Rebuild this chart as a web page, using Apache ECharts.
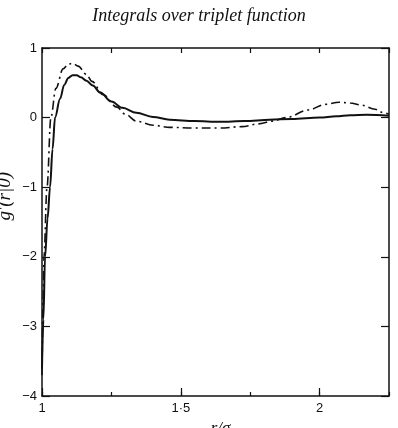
<!DOCTYPE html>
<html>
<head>
<meta charset="utf-8">
<script src="https://cdn.jsdelivr.net/npm/echarts@6/dist/echarts.min.js"></script>
<style>
  html, body { margin: 0; padding: 0; background: #fff; }
  #main { width: 398px; height: 428px; }
</style>
</head>
<body>
<div id="main"></div>
<script>
// data (r/sigma, g'(r|0))
const solidR = [1.0, 1.005, 1.011, 1.02, 1.029, 1.038, 1.047, 1.065, 1.08, 1.095, 1.11, 1.125, 1.14, 1.16, 1.183, 1.21, 1.25, 1.29, 1.34, 1.4, 1.46, 1.55, 1.64, 1.73, 1.82, 1.9, 2.0, 2.06, 2.11, 2.17, 2.25];
const solidG = [-3.6, -2.9, -2.0, -1.45, -1.0, -0.45, 0.0, 0.27, 0.47, 0.57, 0.61, 0.61, 0.58, 0.53, 0.46, 0.36, 0.23, 0.14, 0.07, 0.01, -0.03, -0.05, -0.06, -0.05, -0.03, -0.02, 0.0, 0.02, 0.035, 0.04, 0.025];

const dashR = [1.0, 1.004, 1.007, 1.018, 1.032, 1.05, 1.076, 1.095, 1.11, 1.13, 1.16, 1.18, 1.22, 1.27, 1.3, 1.34, 1.4, 1.46, 1.55, 1.64, 1.72, 1.78, 1.83, 1.88, 1.96, 2.02, 2.07, 2.11, 2.15, 2.2, 2.23, 2.25];
const dashG = [-3.7, -2.6, -2.0, -1.0, 0.0, 0.42, 0.7, 0.77, 0.78, 0.74, 0.62, 0.52, 0.33, 0.15, 0.05, -0.05, -0.11, -0.14, -0.15, -0.15, -0.13, -0.09, -0.05, 0.0, 0.11, 0.19, 0.22, 0.21, 0.18, 0.12, 0.07, 0.05];

const xTickLabels = { 1: '1', 1.5: '1·5', 2: '2' };

const pairs = (xs, ys) => xs.map((x, i) => [x, ys[i]]);

const myChart = echarts.init(document.getElementById('main'));

const axisLine = { show: true, onZero: false, lineStyle: { color: '#111', width: 1.5 } };
const labelFont = { color: '#111', fontFamily: 'Liberation Sans', fontSize: 13 };

const option = {
  backgroundColor: '#fff',
  animation: false,
  title: {
    text: 'Integrals over triplet function',
    left: 'center',
    top: 2,
    textStyle: { fontFamily: 'Liberation Serif', fontStyle: 'italic', fontWeight: 'normal', fontSize: 18, color: '#111' }
  },
  grid: { left: 42, right: 9, top: 48, bottom: 32, outerBoundsMode: 'none', containLabel: false },
  xAxis: [
    {
      type: 'value', position: 'bottom', min: 1, max: 2.25, interval: 0.5,
      axisLine: axisLine,
      axisTick: { inside: true, length: 8, lineStyle: { color: '#111', width: 1.2 } },
      axisLabel: Object.assign({
        margin: 6, showMaxLabel: false,
        formatter: v => xTickLabels[v] || ''
      }, labelFont),
      splitLine: { show: false },
      name: 'r/σ', nameLocation: 'middle', nameGap: 22,
      nameTextStyle: { fontFamily: 'Liberation Serif', fontStyle: 'italic', fontSize: 17, color: '#111', padding: [0, 0, 0, 10] }
    },
    {
      type: 'value', position: 'bottom', min: 1, max: 2.25, interval: 0.25,
      axisLine: { show: false, onZero: false },
      axisTick: { inside: true, length: 4, lineStyle: { color: '#111', width: 1.2 } },
      axisLabel: { show: false },
      splitLine: { show: false }
    },
    {
      type: 'value', position: 'top', min: 1, max: 2.25, interval: 0.25,
      axisLine: axisLine,
      axisTick: { inside: true, length: 5, lineStyle: { color: '#111', width: 1.2 } },
      axisLabel: { show: false },
      splitLine: { show: false }
    }
  ],
  yAxis: [
    {
      type: 'value', position: 'left', min: -4, max: 1, interval: 1,
      axisLine: axisLine,
      axisTick: { inside: true, length: 8, lineStyle: { color: '#111', width: 1.2 } },
      axisLabel: Object.assign({ margin: 5, formatter: v => v < 0 ? '−' + Math.abs(v) : String(v) }, labelFont),
      splitLine: { show: false }
    },
    {
      type: 'value', position: 'right', min: -4, max: 1, interval: 1,
      axisLine: axisLine,
      axisTick: { inside: true, length: 8, lineStyle: { color: '#111', width: 1.2 } },
      axisLabel: { show: false },
      splitLine: { show: false }
    }
  ],
  graphic: [
    {
      type: 'text', left: -5, top: 172, rotation: Math.PI / 2,
      style: { text: "g′(r|0)", font: 'italic 19px "Liberation Serif"', fill: '#111' }
    }
  ],
  series: [
    {
      type: 'line', name: 'solid', data: pairs(solidR, solidG),
      smooth: 0.35, smoothMonotone: 'x', showSymbol: false,
      lineStyle: { color: '#111', width: 2 }
    },
    {
      type: 'line', name: 'dashdot', data: pairs(dashR, dashG),
      smooth: 0.35, smoothMonotone: 'x', showSymbol: false,
      lineStyle: { color: '#111', width: 1.6, type: [9, 4, 2, 4] }
    }
  ]
};

myChart.setOption(option);
</script>
</body>
</html>
